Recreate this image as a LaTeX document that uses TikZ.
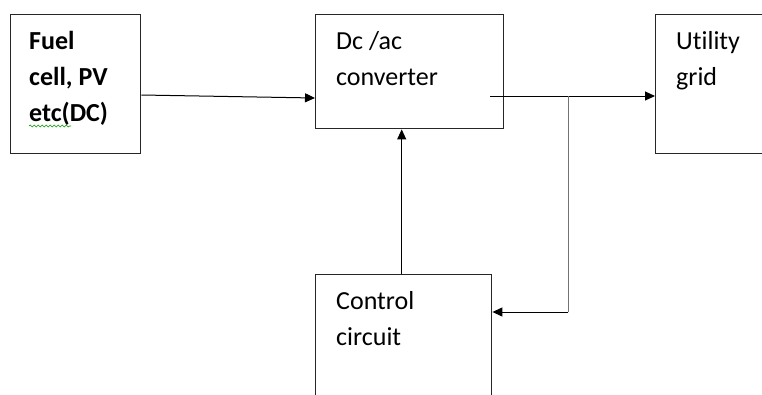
\documentclass[tikz,border=0pt]{standalone}
\usepackage{fontspec}
\setmainfont[Ligatures=NoCommon]{Carlito}
\usetikzlibrary{arrows.meta,calc,decorations.pathmorphing}
\tikzset{
  block/.style={draw=black!85, line width=1.4pt, rectangle, anchor=north west, inner sep=0pt},
  label text/.style={anchor=north west, inner sep=0pt, align=left,
    font=\fontsize{26}{36}\selectfont},
  link/.style={line width=1pt, draw=black, -{Triangle[length=10pt,width=9pt]}},
}
\begin{document}
\begin{tikzpicture}[x=1pt,y=-1pt]
  \useasboundingbox (0,0) rectangle (762,394);
  \clip (0,0) rectangle (762,394);

  % blocks
  \node[block, minimum width=130pt, minimum height=139pt] (fuel) at (10,14) {};
  \node[block, minimum width=188pt, minimum height=114pt] (conv) at (315,14) {};
  \node[block, minimum width=130pt, minimum height=139pt] (grid) at (655,14) {};
  \node[block, minimum width=176pt, minimum height=140pt] (ctrl) at (315,274) {};

  % block captions
  \node[label text, font=\fontsize{26}{36}\selectfont\bfseries] (fueltxt)
    at ($(fuel.north west)+(19,17)$) {Fuel\\cell, PV\\etc(DC)};
  \node[label text] (convtxt) at ($(conv.north west)+(21,17)$) {Dc /ac\\converter};
  \node[label text] (gridtxt) at ($(grid.north west)+(21,17)$) {Utility\\grid};
  \node[label text] (ctrltxt) at ($(ctrl.north west)+(21,17)$) {Control\\circuit};

  % spelling squiggle under "etc"
  \draw[green!60!black, line width=0.6pt,
        decorate, decoration={snake, amplitude=1pt, segment length=4pt}]
    ($(fuel.north west)+(19,112)$) -- ++(42,0);

  % connectors
  \coordinate (out) at ($(conv.north east)+(-14,82)$);
  \coordinate (tap) at ($(conv.north east)+(64,82)$);
  \coordinate (bend) at ($(tap)+(0,216)$);

  \draw[link] ($(fuel.north east)+(0,81)$) -- ($(conv.north west)+(0,84)$);
  \draw[link] (out) -- (out -| grid.west);
  \draw[line width=1pt, draw=black!55] (tap) -- (bend);
  \draw[link] (bend) -- (bend -| ctrl.east);
  \draw[link] ([xshift=-2pt]ctrl.north) -- ([xshift=-2pt]ctrl.north |- conv.south);
\end{tikzpicture}
\end{document}
